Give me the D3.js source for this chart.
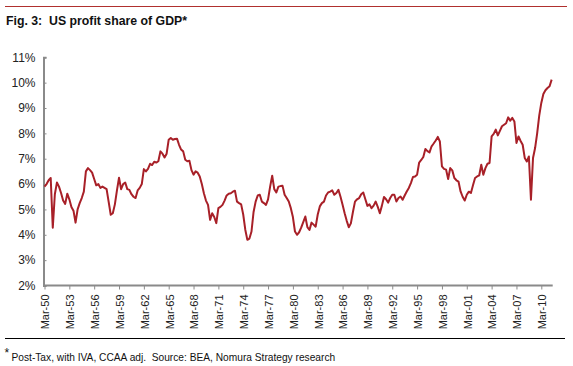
<!DOCTYPE html>
<html><head><meta charset="utf-8">
<script src="https://cdn.jsdelivr.net/npm/d3@7"></script>
<style>body{margin:0;background:#fff}svg{display:block}text{font-family:"Liberation Sans",Arial,sans-serif;white-space:pre}</style>
</head><body>
<svg id="c" width="573" height="366"></svg>
<script>
// Quarterly US profit share of GDP (%), 1950Q1 .. 2011Q2
const startYear = 1950;
const values = [
 5.90,6.00,6.15,6.24, 4.28,5.60,6.06,5.90, 5.65,5.35,5.22,5.62, 5.40,5.10,4.95,4.48,
 5.00,5.25,5.45,5.70, 6.50,6.63,6.55,6.45, 6.20,5.95,6.00,5.85, 5.90,5.85,5.80,5.30,
 4.79,4.85,5.20,5.75, 6.25,5.80,6.00,6.06, 5.80,5.77,5.60,5.50, 5.45,5.75,5.85,6.00,
 6.59,6.50,6.60,6.80, 6.75,6.88,6.85,6.90, 7.29,7.20,7.05,7.20, 7.75,7.82,7.75,7.78,
 7.79,7.55,7.36,7.29, 6.96,6.90,6.92,6.55, 6.37,6.50,6.45,6.30, 6.00,5.64,5.35,5.18,
 4.59,4.85,4.70,4.46, 5.05,5.10,5.18,5.35, 5.55,5.62,5.64,5.70, 5.74,5.31,5.25,5.20,
 4.80,4.20,3.80,3.85, 4.13,4.90,5.31,5.55, 5.58,5.31,5.25,5.18, 5.40,5.90,6.33,5.80,
 5.67,5.90,5.92,5.93, 5.58,5.45,5.31,5.05, 4.70,4.13,4.00,4.10, 4.28,4.50,4.72,4.30,
 4.19,4.48,4.40,4.32, 4.80,5.12,5.25,5.31, 5.55,5.67,5.70,5.75, 5.58,5.65,5.77,5.50,
 5.18,4.85,4.55,4.30, 4.45,4.90,5.31,5.40, 5.45,5.60,5.67,5.40, 5.14,5.20,5.05,5.15,
 5.31,5.10,4.85,5.15, 5.49,5.40,5.27,5.45, 5.58,5.58,5.31,5.45, 5.51,5.38,5.55,5.71,
 5.85,6.04,6.28,6.30, 6.37,6.85,6.95,7.07, 7.38,7.30,7.25,7.49, 7.60,7.72,7.86,7.68,
 6.70,6.60,6.57,6.20, 6.63,6.54,6.24,6.15, 6.10,5.71,5.50,5.35, 5.58,5.70,5.65,5.95,
 6.24,6.30,6.34,6.76, 6.37,6.63,6.80,6.83, 7.88,7.98,8.15,7.92, 8.10,8.28,8.34,8.40,
 8.63,8.50,8.61,8.47, 7.62,7.88,7.70,7.55, 7.03,6.89,7.09,5.38, 7.03,7.42,8.00,8.70,
 9.20,9.55,9.70,9.79, 9.86,10.12
];
const yTicks = [2,3,4,5,6,7,8,9,10,11];
const xTickYears = [1950,1953,1956,1959,1962,1965,1968,1971,1974,1977,1980,1983,1986,1989,1992,1995,1998,2001,2004,2007,2010];
const title = "Fig. 3:  US profit share of GDP*";
const footnote = "Post-Tax, with IVA, CCAA adj.  Source: BEA, Nomura Strategy research";

const data = values.map((v,i)=>({q:i, v}));
const svg = d3.select("#c");
const mLeft = 43.5, mRight = 552.7, mTop = 57.3, mBottom = 285.5;
const nQ = values.length;
const x = d3.scaleLinear().domain([0, nQ - 1]).range([44.5, 44.5 + (nQ - 1) * 2.07]);
const y = d3.scaleLinear().domain([2, 11]).range([mBottom, mTop]);

// header rule
svg.append("line").attr("x1",5).attr("x2",567).attr("y1",6.5).attr("y2",6.5)
  .attr("stroke","#b0302e").attr("stroke-width",1);
svg.append("text").attr("x",6).attr("y",25).attr("font-size",12.3).attr("font-weight","bold")
  .attr("fill","#111").text(title);

// y axis
const yAxis = d3.axisLeft(y).tickValues(yTicks).tickFormat(d=>d+"%").tickSize(-3).tickPadding(8);
const gy = svg.append("g").attr("transform",`translate(${mLeft},0)`).call(yAxis);
gy.select(".domain").attr("stroke","#8a8a8a").attr("stroke-width",2);
gy.selectAll(".tick line").attr("stroke","#8a8a8a");
gy.selectAll(".tick text").attr("font-size",12).attr("fill","#222")
  .attr("font-family","Liberation Sans, Arial, sans-serif");

// x axis
const xAxis = d3.axisBottom(x).tickValues(xTickYears.map(yr=>(yr-startYear)*4))
  .tickFormat(q=>"Mar-"+String((startYear+q/4)%100).padStart(2,"0")).tickSize(4).tickSizeOuter(0);
const gx = svg.append("g").attr("transform",`translate(0,${mBottom})`).call(xAxis);
gx.select(".domain").attr("d",`M${mLeft},0H${mRight}`).attr("stroke","#8a8a8a").attr("stroke-width",2);
gx.selectAll(".tick line").attr("stroke","#8a8a8a");
gx.selectAll(".tick text").attr("font-size",11).attr("fill","#222")
  .attr("font-family","Liberation Sans, Arial, sans-serif")
  .attr("text-anchor","end").attr("dy","0.35em")
  .attr("transform","translate(0.5,9) rotate(-90)").attr("x",0).attr("y",0);

// line
svg.append("path").datum(data)
  .attr("fill","none").attr("stroke","#a82028").attr("stroke-width",2).attr("stroke-linejoin","round")
  .attr("d", d3.line().x(d=>x(d.q)).y(d=>y(d.v)));

// footer
svg.append("line").attr("x1",5).attr("x2",565).attr("y1",338.5).attr("y2",338.5)
  .attr("stroke","#000").attr("stroke-width",1);
svg.append("text").attr("x",4.5).attr("y",357).attr("font-size",12).attr("fill","#111").text("*");
svg.append("text").attr("x",11.5).attr("y",361).attr("font-size",10.2).attr("fill","#111").text(footnote);
</script>
</body></html>
